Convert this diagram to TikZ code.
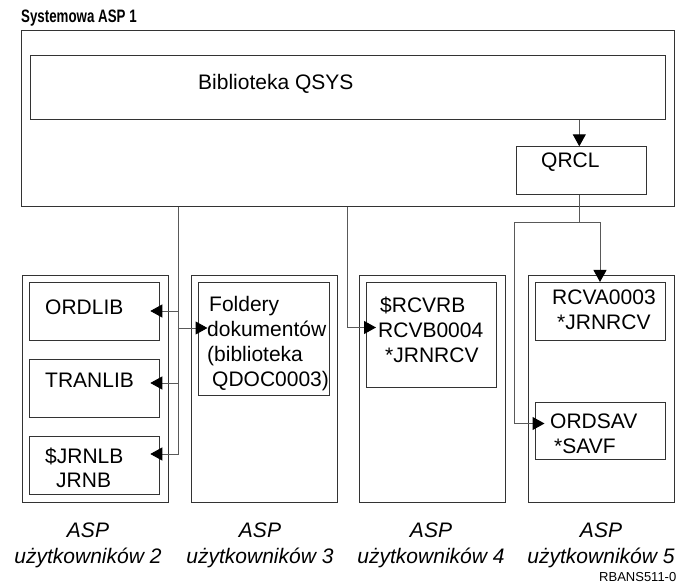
\documentclass[tikz,border=0pt]{standalone}
\usepackage{graphicx}
\usepackage{fontspec}
\setmainfont{Liberation Sans}
\usetikzlibrary{arrows.meta}

\tikzset{
  box/.style={draw=black!80, line width=1pt, inner sep=0pt, anchor=north west},
  txt/.style={anchor=north west, inner sep=0pt, align=left, font=\fontsize{21}{25}\selectfont},
  asplbl/.style={anchor=north, inner sep=0pt, align=center, font=\fontsize{21}{26}\selectfont\itshape},
  conn/.style={draw=black!65, line width=1pt},
  arr/.style={conn, -{Triangle[length=12pt,width=13pt,color=black]}},
  into/.style={shorten >=-10pt},
}

\begin{document}
\begin{tikzpicture}[x=1pt, y=-1pt]
    \useasboundingbox (0,0) rectangle (677,585);

    % system ASP
    \node[anchor=north west, inner sep=0pt, font=\fontsize{18}{21}\selectfont\bfseries] (title) at (21,9.5) {\scalebox{0.74}[1]{Systemowa ASP 1}};
    \node[box, minimum width=652.8pt, minimum height=176pt] (asp1) at (20.8,30) {};
    \node[box, minimum width=634.2pt, minimum height=64.4pt] (qsys) at (30.3,55) {};
    \node[txt] (qsystxt) at (198,74.5) {Biblioteka QSYS};
    \node[box, minimum width=130.5pt, minimum height=48.1pt] (qrcl) at (515.8,146.3) {};
    \node[txt] (qrcltxt) at (541,153) {QRCL};

    % user ASPs
    \node[box, minimum width=146pt, minimum height=226.5pt] (asp2) at (21.5,275) {};
    \node[box, minimum width=146pt, minimum height=226.5pt] (asp3) at (190.5,275) {};
    \node[box, minimum width=146pt, minimum height=226.5pt] (asp4) at (359,275) {};
    \node[box, minimum width=146pt, minimum height=226.5pt] (asp5) at (527.5,275) {};

    \node[box, minimum width=130pt, minimum height=57.5pt] (ordlib) at (29.3,282.5) {};
    \node[box, minimum width=130pt, minimum height=57.5pt] (tranlib) at (29.3,359.3) {};
    \node[box, minimum width=130pt, minimum height=57.5pt] (jrnlb) at (29.3,436) {};
    \node[box, minimum width=131pt, minimum height=112.5pt] (foldery) at (197.5,282.5) {};
    \node[box, minimum width=130pt, minimum height=104pt] (rcvb) at (366,282.5) {};
    \node[box, minimum width=130pt, minimum height=58pt] (rcva) at (534.5,282) {};
    \node[box, minimum width=130pt, minimum height=57pt] (ordsav) at (534.5,401.5) {};

    \node[txt] (ordlibtxt) at (45,299.5) {ORDLIB};
    \node[txt] (tranlibtxt) at (45,372.5) {TRANLIB};
    \node[txt, font=\fontsize{21}{24}\selectfont] (jrnlbtxt) at (45,448) {\$JRNLB\\\hspace*{11pt}JRNB};
    \node[txt] (folderytxt) at (207,296.5) {\hspace*{2pt}Foldery\\dokumentów\\(biblioteka\\\hspace*{5pt}QDOC0003)};
    \node[txt] (rcvbtxt) at (378,296.5) {\hspace*{2pt}\$RCVRB\\RCVB0004\\\hspace*{7pt}*JRNRCV};
    \node[txt] (rcvatxt) at (552,289.5) {RCVA0003\\\hspace*{5pt}*JRNRCV};
    \node[txt] (ordsavtxt) at (550,413.5) {ORDSAV\\\hspace*{4pt}*SAVF};

    \node[asplbl] (lbl2) at (88,522.5) {ASP\\użytkowników 2};
    \node[asplbl] (lbl3) at (260,522.5) {ASP\\użytkowników 3};
    \node[asplbl] (lbl4) at (431,522.5) {ASP\\użytkowników 4};
    \node[asplbl] (lbl5) at (601,522.5) {ASP\\użytkowników 5};
    \node[anchor=east, inner sep=0pt, font=\fontsize{13}{15}\selectfont] (fig) at (676.5,577) {RBANS511-0};

    % connectors
    \coordinate (jq) at (579.3,222.5);
    \coordinate (jl) at (514.5,423.5);
    \coordinate (a1) at (178.5,311);
    \coordinate (a2) at (178.5,328);
    \coordinate (a3) at (178.5,383);
    \coordinate (a4) at (178.5,454);
    \coordinate (b1) at (347.5,327.5);

    \draw[arr] (qsys.south -| jq) -- (qrcl.north -| jq);
    \draw[conn] (qrcl.south -| jq) -- (jq);
    \draw[arr] (jq) -| (rcva.north);
    \draw[arr, into] (jq) -| (jl) -- (ordsav.west |- jl);

    \draw[arr, into] (asp1.south -| a4) -- (a4) -- (jrnlb.east |- a4);
    \draw[arr, into] (a1) -- (ordlib.east |- a1);
    \draw[arr, into] (a2) -- (foldery.west |- a2);
    \draw[arr, into] (a3) -- (tranlib.east |- a3);
    \draw[arr, into] (asp1.south -| b1) -- (b1) -- (rcvb.west |- b1);
\end{tikzpicture}
\end{document}
